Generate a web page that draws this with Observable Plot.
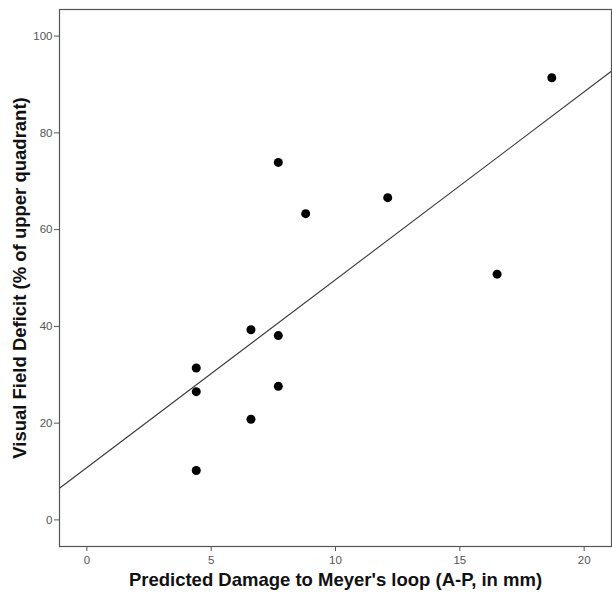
<!DOCTYPE html>
<html>
<head>
<meta charset="utf-8">
<script src="https://cdn.jsdelivr.net/npm/d3@7"></script>
<script src="https://cdn.jsdelivr.net/npm/@observablehq/plot@0.6"></script>
<style>
  html, body { margin: 0; padding: 0; background: white; }
</style>
</head>
<body>
<div id="chart"></div>
<script>
const damage = [4.4, 4.4, 4.4, 6.6, 6.6, 7.7, 7.7, 7.7, 8.8, 12.1, 16.5, 18.7];
const deficit = [31.4, 26.5, 10.2, 39.3, 20.8, 38.1, 27.6, 73.9, 63.3, 66.6, 50.8, 91.4];
const xTicks = [0, 5, 10, 15, 20];
const yTicks = [0, 20, 40, 60, 80, 100];
const xDomain = [-1.1, 21.1];
const yDomain = [-5.5, 105.5];
const xTitle = "Predicted Damage to Meyer's loop (A-P, in mm)";
const yTitle = "Visual Field Deficit (% of upper quadrant)";

const points = damage.map((x, i) => ({x, y: deficit[i]}));

// least-squares fit line across the full x range
const mx = d3.mean(damage), my = d3.mean(deficit);
const sxy = d3.sum(points, p => (p.x - mx) * (p.y - my));
const sxx = d3.sum(points, p => (p.x - mx) ** 2);
const slope = sxy / sxx;
const intercept = my - slope * mx;
const fit = xDomain.map(x => ({x, y: intercept + slope * x}));

const chart = Plot.plot({
  width: 612,
  height: 593,
  marginLeft: 59,
  marginRight: 1,
  marginTop: 9,
  marginBottom: 47,
  x: {domain: xDomain},
  y: {domain: yDomain},
  style: {fontFamily: "'Liberation Sans', Arial, sans-serif", background: "white"},
  marks: [
    Plot.axisX({ticks: xTicks, tickSize: 5, tickPadding: 4, label: null, fontSize: 11.5, color: "#555"}),
    Plot.axisY({ticks: yTicks, tickSize: 5, tickPadding: 2, label: null, fontSize: 11.5, color: "#555"}),
    Plot.line(fit, {x: "x", y: "y", stroke: "#3a3a3a", strokeWidth: 1.1, clip: true}),
    Plot.dot(points, {x: "x", y: "y", r: 4.5, fill: "black", stroke: "none"}),
    Plot.frame({stroke: "#555", strokeWidth: 1.2}),
    Plot.text([xTitle], {frameAnchor: "bottom", dy: 34, fontSize: 18.5, fontWeight: "bold", fill: "#111", textAnchor: "middle", lineAnchor: "middle"}),
    Plot.text([yTitle], {frameAnchor: "left", dx: -39, rotate: -90, fontSize: 18.5, fontWeight: "bold", fill: "#111", textAnchor: "middle", lineAnchor: "middle"})
  ]
});
document.getElementById("chart").appendChild(chart);
</script>
</body>
</html>
